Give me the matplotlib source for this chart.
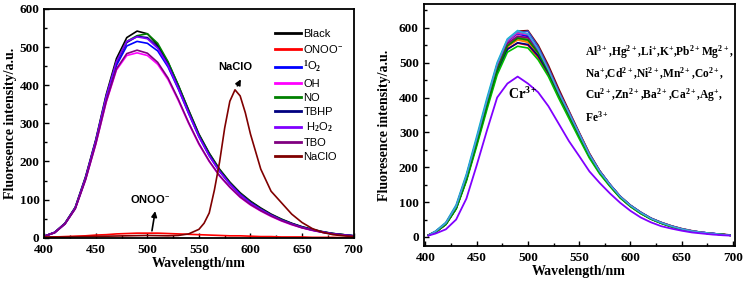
import matplotlib
matplotlib.use('Agg')
import matplotlib.pyplot as plt
from matplotlib.ticker import MultipleLocator

plt.rcParams['font.family'] = ['Liberation Serif', 'DejaVu Serif']
plt.rcParams['mathtext.fontset'] = 'custom'
plt.rcParams['mathtext.rm'] = 'Liberation Serif:bold'
plt.rcParams['mathtext.it'] = 'Liberation Serif:bold'
plt.rcParams['mathtext.bf'] = 'Liberation Serif:bold'

# ==================== 左图数据 (ROS) ====================
wl = [400, 410, 420, 430, 440, 450, 460, 470, 480, 490, 500, 510, 520, 530, 540,
      550, 560, 570, 580, 590, 600, 610, 620, 630, 640, 650, 660, 670, 680, 690, 700]

black = [4, 14, 38, 80, 160, 258, 375, 470, 525, 542, 535, 505, 460, 400, 335,
         272, 222, 180, 146, 118, 96, 78, 62, 49, 38, 29, 22, 16, 11, 8, 5]
onoo = [1, 2, 3, 4, 5, 7, 8, 10, 11, 12, 12, 12, 11, 10, 9,
        8, 7, 6, 5, 5, 4, 3, 3, 2, 2, 2, 1, 1, 1, 0, 0]
o2 = [4, 13, 36, 77, 154, 250, 362, 452, 503, 515, 510, 490, 448, 390, 326,
      265, 215, 174, 141, 113, 92, 74, 59, 47, 36, 27, 20, 15, 10, 7, 5]
oh = [4, 13, 36, 76, 152, 246, 355, 440, 478, 485, 478, 455, 415, 360, 300,
      245, 200, 162, 132, 106, 86, 70, 56, 44, 34, 26, 19, 14, 10, 7, 4]
no = [4, 14, 37, 78, 157, 255, 370, 462, 515, 530, 535, 510, 462, 400, 333,
      270, 220, 178, 144, 116, 94, 76, 60, 48, 37, 28, 21, 15, 11, 8, 5]
tbhp = [4, 14, 37, 78, 156, 254, 368, 460, 512, 528, 525, 500, 455, 395, 330,
        268, 218, 176, 143, 115, 93, 75, 60, 47, 37, 28, 21, 15, 11, 8, 5]
h2o2 = [4, 14, 37, 78, 157, 255, 370, 462, 515, 527, 522, 497, 452, 392, 327,
        265, 215, 174, 141, 113, 91, 74, 59, 46, 36, 27, 20, 15, 10, 7, 5]
tbo = [4, 13, 36, 76, 152, 247, 357, 443, 483, 492, 484, 460, 419, 363, 302,
       247, 201, 163, 133, 107, 87, 71, 57, 45, 35, 26, 20, 14, 10, 7, 4]

wl_naclo = [400, 420, 440, 460, 480, 500, 520, 530, 540, 550, 555, 560, 565, 570, 575,
            580, 585, 590, 595, 600, 610, 620, 630, 640, 650, 660, 670, 680, 690, 700]
naclo = [2, 2, 3, 4, 5, 6, 5, 6, 10, 22, 38, 65, 125, 198, 288,
         358, 388, 372, 328, 272, 180, 122, 92, 62, 40, 24, 14, 8, 5, 3]

left_labels = ['Black', 'ONOO$^{-}$', '$^{1}$O$_{2}$', 'OH', 'NO', 'TBHP',
               ' H$_{2}$O$_{2}$', 'TBO', 'NaClO']
left_colors = ['#000000', '#ff0000', '#0000ff', '#ff00ff', '#008000', '#000080',
               '#8000ff', '#800080', '#800000']

# ==================== 右图数据 (金属离子) ====================
wl_r = [403, 410, 420, 430, 440, 450, 460, 470, 480, 490, 500, 510, 520, 530, 540,
        550, 560, 570, 580, 590, 600, 610, 620, 630, 640, 650, 660, 670, 680, 690, 697]

ions = {
    'Al': [5, 14, 36, 82, 165, 270, 380, 485, 558, 590, 592, 550, 492, 425, 362,
           300, 240, 190, 151, 117, 91, 71, 54, 42, 32, 24, 18, 13, 10, 7, 6],
    'Hg': [6, 17, 42, 92, 180, 288, 398, 500, 568, 592, 580, 535, 478, 414, 355,
           294, 234, 187, 149, 115, 90, 70, 53, 41, 31, 23, 17, 13, 10, 7, 5],
    'Li': [5, 16, 40, 88, 175, 280, 390, 494, 563, 588, 578, 533, 477, 413, 356,
           296, 236, 189, 150, 116, 90, 70, 53, 41, 31, 23, 17, 13, 10, 7, 5],
    'K': [5, 15, 38, 86, 172, 276, 386, 490, 560, 585, 590, 545, 485, 418, 358,
          297, 237, 189, 151, 116, 91, 71, 54, 41, 31, 23, 17, 13, 10, 7, 6],
    'Pb': [5, 15, 39, 86, 171, 276, 386, 490, 562, 585, 578, 536, 480, 415, 356,
           295, 235, 188, 150, 115, 90, 70, 53, 41, 31, 23, 17, 13, 10, 7, 5],
    'Mg': [5, 15, 38, 85, 170, 275, 384, 488, 556, 580, 575, 532, 476, 412, 354,
           294, 235, 188, 150, 115, 90, 70, 53, 41, 31, 23, 17, 13, 10, 7, 5],
    'Na': [5, 15, 38, 85, 169, 273, 382, 486, 555, 578, 570, 528, 473, 410, 352,
           292, 233, 186, 148, 114, 89, 69, 52, 40, 30, 23, 17, 13, 9, 7, 5],
    'Cd': [5, 15, 38, 84, 168, 272, 380, 484, 552, 575, 568, 526, 472, 409, 351,
           291, 232, 186, 148, 114, 89, 69, 52, 40, 30, 22, 17, 12, 9, 7, 5],
    'Ni': [5, 14, 37, 83, 166, 270, 378, 480, 550, 572, 566, 525, 471, 408, 350,
           290, 232, 185, 148, 114, 89, 69, 52, 40, 30, 22, 16, 12, 9, 7, 5],
    'Mn': [5, 14, 37, 83, 166, 268, 376, 478, 548, 568, 562, 522, 470, 406, 348,
           289, 231, 185, 147, 113, 88, 68, 52, 40, 30, 22, 16, 12, 9, 7, 5],
    'Co': [5, 14, 37, 82, 165, 268, 375, 476, 546, 565, 558, 520, 468, 404, 346,
           288, 230, 184, 147, 113, 88, 68, 52, 40, 30, 22, 16, 12, 9, 7, 5],
    'Cu': [5, 15, 38, 84, 168, 272, 380, 484, 555, 575, 572, 535, 482, 418, 358,
           297, 237, 189, 150, 116, 90, 70, 53, 41, 31, 23, 17, 13, 10, 7, 5],
    'Zn': [5, 14, 37, 82, 164, 266, 372, 474, 540, 556, 550, 515, 465, 403, 346,
           288, 230, 184, 147, 113, 88, 68, 52, 40, 30, 22, 16, 12, 9, 7, 6],
    'Ba': [5, 14, 37, 82, 164, 266, 372, 472, 538, 557, 552, 520, 470, 408, 350,
           291, 232, 186, 148, 114, 89, 69, 52, 40, 30, 22, 16, 12, 9, 7, 5],
    'Ca': [5, 14, 36, 80, 160, 260, 365, 465, 530, 547, 542, 508, 460, 398, 340,
           282, 226, 181, 145, 112, 87, 67, 51, 39, 29, 22, 16, 12, 9, 7, 5],
    'Ag': [5, 14, 37, 82, 165, 268, 375, 478, 548, 570, 565, 528, 474, 410, 351,
           292, 233, 186, 148, 114, 89, 69, 52, 40, 30, 22, 16, 12, 9, 7, 5],
    'Fe': [5, 16, 40, 88, 176, 282, 392, 496, 566, 590, 582, 538, 480, 415, 356,
           296, 236, 188, 150, 116, 90, 70, 53, 41, 31, 23, 17, 13, 10, 7, 5],
}
ion_colors = ['#800000', '#00c8d0', '#008080', '#3050d0', '#e020c0', '#0000ff',
              '#ff70b0', '#808080', '#808000', '#c0a000', '#ff8000', '#800080',
              '#ff0000', '#000080', '#00c000', '#008000', '#40a0e0']
cr = [4, 10, 22, 50, 110, 205, 305, 400, 440, 460, 440, 415, 375, 325, 275,
      232, 188, 155, 125, 98, 75, 56, 42, 31, 24, 18, 13, 10, 7, 5, 4]

ion_text = ['Al$^{3+}$,Hg$^{2+}$,Li$^{+}$,K$^{+}$,Pb$^{2+}$Mg$^{2+}$,',
            'Na$^{+}$,Cd$^{2+}$,Ni$^{2+}$,Mn$^{2+}$,Co$^{2+}$,',
            'Cu$^{2+}$,Zn$^{2+}$,Ba$^{2+}$,Ca$^{2+}$,Ag$^{+}$,',
            'Fe$^{3+}$']

# ==================== 画图 ====================
fig = plt.figure(figsize=(7.46, 2.81), dpi=100)
ax1 = fig.add_axes([0.0594, 0.154, 0.4145, 0.814])
ax2 = fig.add_axes([0.568, 0.1256, 0.4169, 0.860])

left_series = [black, onoo, o2, oh, no, tbhp, h2o2, tbo]
for ys, lab, c in zip(left_series, left_labels[:-1], left_colors[:-1]):
    ax1.plot(wl, ys, color=c, lw=1.2, label=lab)
ax1.plot(wl_naclo, naclo, color=left_colors[-1], lw=1.2, label=left_labels[-1])

ax1.set_xlim(400, 700)
ax1.set_ylim(0, 600)
leg = ax1.legend(loc='upper right', bbox_to_anchor=(1.0, 0.955), frameon=False,
                 prop={'family': 'Liberation Sans', 'size': 8},
                 handlelength=2.4, handletextpad=0.2, labelspacing=0.35)
for line in leg.get_lines():
    line.set_linewidth(2)

ax1.annotate('', xy=(508, 77), xytext=(504, 11),
             arrowprops=dict(arrowstyle='-|>', color='black', lw=1.2, mutation_scale=8))
ax1.text(503, 101, 'ONOO$^{-}$', ha='center', va='center', fontsize=8,
         fontweight='bold', family='Liberation Sans')
ax1.annotate('', xy=(592, 422), xytext=(586, 392),
             arrowprops=dict(arrowstyle='-|>', color='black', lw=1.2, mutation_scale=8))
ax1.text(585, 448, 'NaClO', ha='center', va='center', fontsize=8,
         fontweight='bold', family='Liberation Sans')

for (name, ys), c in zip(ions.items(), ion_colors):
    ax2.plot(wl_r, ys, color=c, lw=1.2)
ax2.plot(wl_r, cr, color='#8000ff', lw=1.3)
ax2.set_xlim(398.4, 701.7)
ax2.set_ylim(-25, 668)

for i, t in enumerate(ion_text):
    ax2.text(556, 530 - i * 62, t, ha='left', va='center', fontsize=8.3, fontweight='bold')
ax2.text(480.5, 410, 'Cr$^{3+}$', ha='left', va='center', fontsize=10, fontweight='bold')

for ax in (ax1, ax2):
    ax.xaxis.set_major_locator(MultipleLocator(50))
    ax.xaxis.set_minor_locator(MultipleLocator(25))
    ax.yaxis.set_major_locator(MultipleLocator(100))
    ax.yaxis.set_minor_locator(MultipleLocator(50))
    ax.tick_params(which='both', direction='in', labelsize=9.5)
    ax.tick_params(which='major', length=3.5, width=1)
    ax.tick_params(which='minor', length=2, width=1)
    ax.tick_params(axis='x', pad=4.5)
    for lab in ax.get_xticklabels() + ax.get_yticklabels():
        lab.set_fontweight('bold')
    for sp in ax.spines.values():
        sp.set_linewidth(1.3)
    ax.set_xlabel('Wavelength/nm', fontsize=10, fontweight='bold', labelpad=1)
    ax.set_ylabel('Fluoresence intensity/a.u.', fontsize=10, fontweight='bold', labelpad=2)

ax2.set_yticks([0, 100, 200, 300, 400, 500, 600])
ax2.yaxis.labelpad = 6

plt.savefig('out.png', dpi=100)
plt.close()
